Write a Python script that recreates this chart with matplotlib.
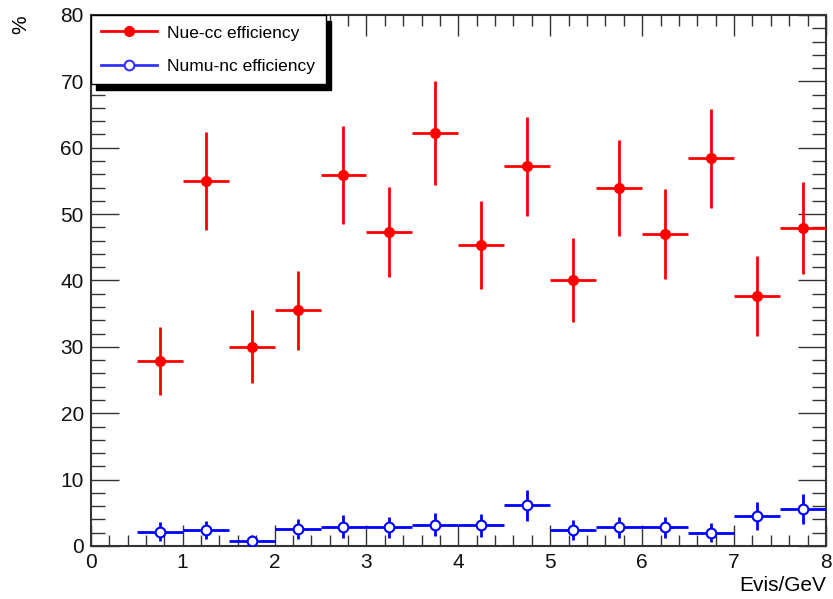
import numpy as np
import matplotlib.pyplot as plt
from matplotlib.ticker import MultipleLocator
from matplotlib.lines import Line2D

plt.rcParams['font.family'] = ['Liberation Sans', 'DejaVu Sans']

# bin centres (GeV), half bin width 0.25
evis = [0.75, 1.25, 1.75, 2.25, 2.75, 3.25, 3.75, 4.25,
        4.75, 5.25, 5.75, 6.25, 6.75, 7.25, 7.75]
xerr = 0.25

# nue-cc efficiency (%)
nue_eff = [27.9, 55.0, 30.0, 35.5, 55.9, 47.3, 62.2, 45.3,
           57.2, 40.1, 53.9, 47.0, 58.4, 37.7, 47.9]
nue_err = [5.1, 7.4, 5.5, 6.0, 7.4, 6.8, 7.8, 6.6,
           7.5, 6.3, 7.2, 6.8, 7.5, 6.0, 6.9]

# numu-nc efficiency (%)
numu_eff = [2.15, 2.4, 0.8, 2.55, 2.9, 2.8, 3.2, 3.1,
            6.1, 2.4, 2.8, 2.8, 2.0, 4.5, 5.6]
numu_err = [1.4, 1.4, 0.8, 1.5, 1.7, 1.6, 1.75, 1.7,
            2.4, 1.5, 1.6, 1.6, 1.4, 2.1, 2.3]

fig = plt.figure(figsize=(8.33, 5.99), dpi=100)
ax = fig.add_axes([0.109, 0.0885, 0.8825, 0.8865])

ax.errorbar(evis, nue_eff, xerr=xerr, yerr=nue_err, fmt='o', color='#ff0000',
            ms=7, elinewidth=2, capsize=0, clip_on=False, zorder=3)
ax.errorbar(evis, numu_eff, xerr=xerr, yerr=numu_err, fmt='o', color='#0000ff',
            mfc='white', mec='#0000ff', mew=1.5, ms=7, elinewidth=2, capsize=0,
            clip_on=True, zorder=3)

ax.set_xlim(0, 8)
ax.set_ylim(0, 80)
ax.xaxis.set_major_locator(MultipleLocator(1))
ax.xaxis.set_minor_locator(MultipleLocator(0.2))
ax.yaxis.set_major_locator(MultipleLocator(10))
ax.yaxis.set_minor_locator(MultipleLocator(2))
ax.tick_params(which='both', direction='in', top=True, right=True,
               labelsize=15, color='#333333', labelcolor='#111111')
ax.tick_params(axis='x', which='major', length=15, width=1, pad=5)
ax.tick_params(axis='x', which='minor', length=8, width=1)
ax.tick_params(axis='y', which='major', length=20, width=1, pad=5)
ax.tick_params(axis='y', which='minor', length=10, width=1)
for s in ax.spines.values():
    s.set_linewidth(1.5)
    s.set_color('#333333')

ax.set_xlabel('Evis/GeV', fontsize=15, loc='right', labelpad=3)
ax.set_ylabel('%', fontsize=15, loc='top', labelpad=22)

handles = [Line2D([], [], color='#ff0000', marker='o', ms=7, lw=2),
           Line2D([], [], color='#3333ff', marker='o', mfc='white', ms=7,
                  mew=1.5, lw=2)]
leg = ax.legend(handles, ['Nue-cc efficiency', 'Numu-nc efficiency'],
                loc='upper left', bbox_to_anchor=(0, 1), borderaxespad=0,
                fancybox=False, framealpha=1, edgecolor='black',
                shadow={'color': 'black', 'alpha': 1, 'ox': 4, 'oy': -4},
                fontsize=12.5, handlelength=3.2, handletextpad=0.6,
                borderpad=0.6, labelspacing=1.05)
leg.get_frame().set_linewidth(1)

fig.savefig('out.png', dpi=100)
